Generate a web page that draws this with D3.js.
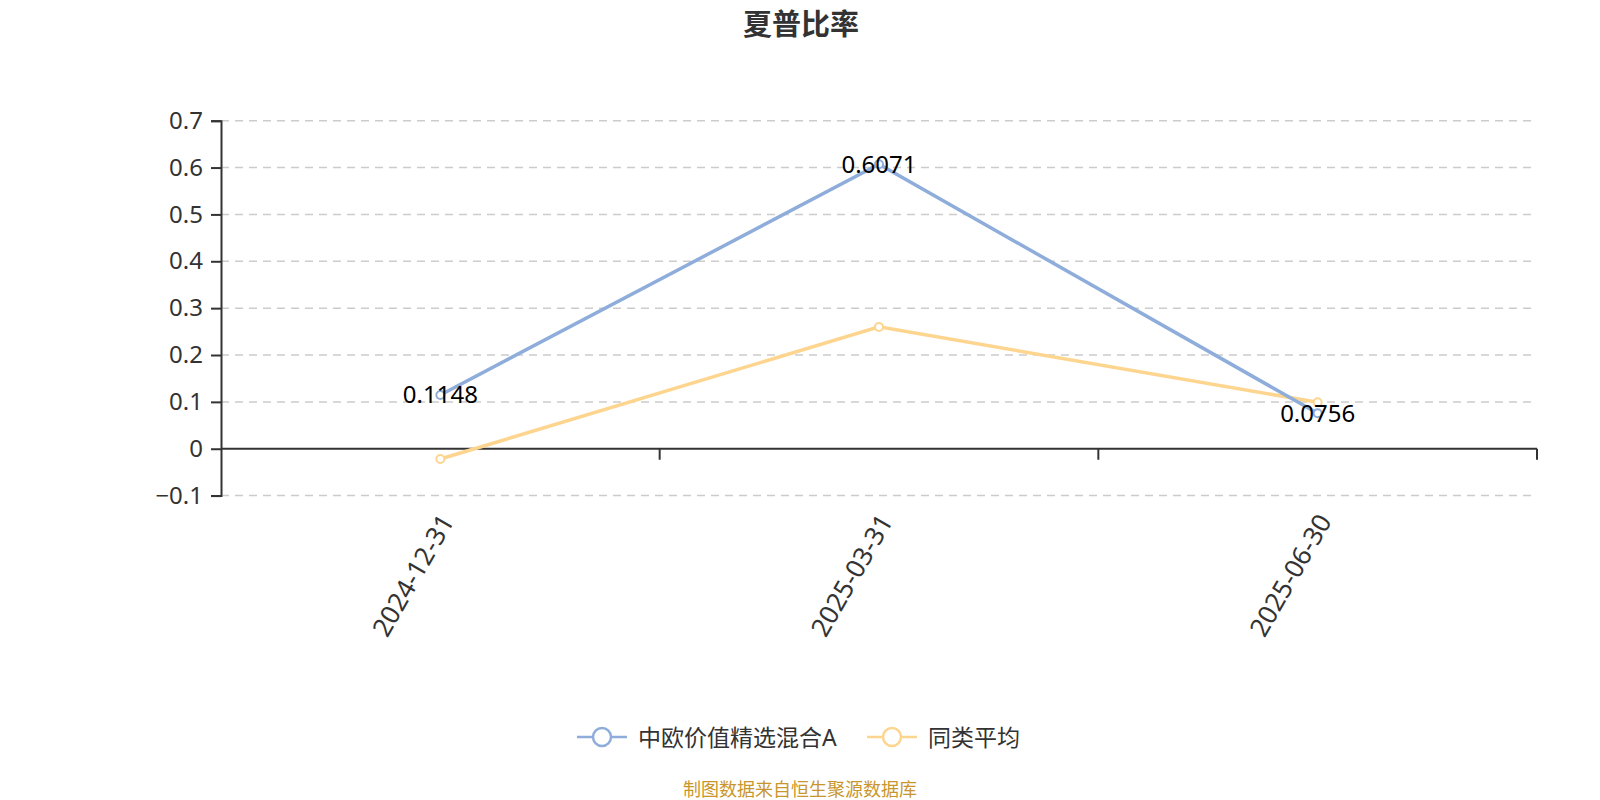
<!DOCTYPE html>
<html>
<head>
<meta charset="utf-8">
<script src="https://cdn.jsdelivr.net/npm/d3@7/dist/d3.min.js"></script>
<style>
  body { margin: 0; background: #fff; }
  text { font-family: "Noto Sans", "Noto Sans CJK SC", sans-serif; }
</style>
</head>
<body>
<script>
// data
const dates = ["2024-12-31", "2025-03-31", "2025-06-30"];
const fundName = "中欧价值精选混合A";
const avgName = "同类平均";
const fundValues = [0.1148, 0.6071, 0.0756];
const avgValues = [-0.022, 0.26, 0.099];
const yTicks = [-0.1, 0, 0.1, 0.2, 0.3, 0.4, 0.5, 0.6, 0.7];

const W = 1600, H = 800;
const blue = "#8eaddb", orange = "#fdd58f";

const svg = d3.select("body").append("svg")
  .attr("width", W).attr("height", H);

const x = d3.scaleBand().domain(dates).range([221, 1537]);
const y = d3.scaleLinear().domain([-0.1, 0.7]).range([495.6, 120.7]);

// title
svg.append("text")
  .attr("x", 801).attr("y", 23)
  .attr("text-anchor", "middle").attr("dominant-baseline", "central")
  .style("font-size", "29px").style("font-weight", "bold").style("fill", "#333")
  .text("夏普比率");

// grid lines
svg.append("g").selectAll("line")
  .data(yTicks.filter(d => d !== 0))
  .join("line")
  .attr("x1", 221).attr("x2", 1537)
  .attr("y1", d => y(d)).attr("y2", d => y(d))
  .attr("stroke", "#ccc").attr("stroke-width", 1.5)
  .attr("stroke-dasharray", "8,6");

// y axis
const yAxis = svg.append("g")
  .attr("transform", "translate(221,0)")
  .call(d3.axisLeft(y).tickValues(yTicks).tickSize(10).tickPadding(8)
    .tickFormat(d => d === 0 ? "0" : d3.format(".1f")(d)));
yAxis.select(".domain").attr("stroke", "#333").attr("stroke-width", 2);
yAxis.selectAll(".tick line").attr("stroke", "#333").attr("stroke-width", 2);
yAxis.selectAll(".tick text")
  .style("font-size", "24px").style("fill", "#333")
  .style("font-family", "'Noto Sans', sans-serif");

// x axis on zero
const xAxis = svg.append("g")
  .attr("transform", `translate(0,${y(0)})`);
xAxis.append("line")
  .attr("x1", 221).attr("x2", 1537)
  .attr("stroke", "#333").attr("stroke-width", 2);
const bounds = dates.map(d => x(d)).concat([x.range()[1]]);
xAxis.selectAll("line.tk")
  .data(bounds.slice(1))
  .join("line").attr("class", "tk")
  .attr("x1", d => d).attr("x2", d => d)
  .attr("y1", 0).attr("y2", 11)
  .attr("stroke", "#333").attr("stroke-width", 2);

// rotated category labels
svg.append("g").selectAll("text")
  .data(dates)
  .join("text")
  .attr("transform", d => `translate(${x(d) + x.bandwidth() / 2 + 6},${516}) rotate(-60)`)
  .attr("text-anchor", "end").attr("dominant-baseline", "central")
  .style("font-size", "26px").style("fill", "#333")
  .text(d => d);

// series
const series = [
  { name: avgName, values: avgValues, color: orange },
  { name: fundName, values: fundValues, color: blue }
];
const cx = d => x(d) + x.bandwidth() / 2;
const line = d3.line().x((v, i) => cx(dates[i])).y(v => y(v));

series.forEach(s => {
  svg.append("path")
    .attr("d", line(s.values))
    .attr("fill", "none").attr("stroke", s.color).attr("stroke-width", 3.5);
  svg.append("g").selectAll("circle")
    .data(s.values)
    .join("circle")
    .attr("cx", (v, i) => cx(dates[i])).attr("cy", v => y(v))
    .attr("r", 4).attr("fill", "#fff")
    .attr("stroke", s.color).attr("stroke-width", 2);
});

// blue value labels
svg.append("g").selectAll("text")
  .data(fundValues)
  .join("text")
  .attr("x", (v, i) => cx(dates[i])).attr("y", v => y(v) - 1)
  .attr("text-anchor", "middle").attr("dominant-baseline", "central")
  .style("font-size", "24px").style("fill", "#000")
  .text(v => d3.format(".4f")(v));

// legend
const legend = [
  { name: fundName, color: blue, x0: 577, tx: 638 },
  { name: avgName, color: orange, x0: 867, tx: 928 }
];
const lg = svg.append("g").selectAll("g").data(legend).join("g");
lg.append("line")
  .attr("x1", d => d.x0).attr("x2", d => d.x0 + 50)
  .attr("y1", 737).attr("y2", 737)
  .attr("stroke", d => d.color).attr("stroke-width", 2.5);
lg.append("circle")
  .attr("cx", d => d.x0 + 25).attr("cy", 737).attr("r", 9)
  .attr("fill", "#fff").attr("stroke", d => d.color).attr("stroke-width", 2.5);
lg.append("text")
  .attr("x", d => d.tx).attr("y", 737)
  .attr("dominant-baseline", "central")
  .style("font-size", "23px").style("fill", "#333")
  .text(d => d.name);

// footer
svg.append("text")
  .attr("x", 800).attr("y", 789)
  .attr("text-anchor", "middle").attr("dominant-baseline", "central")
  .style("font-size", "18px").style("fill", "#c8962d")
  .text("制图数据来自恒生聚源数据库");
</script>
</body>
</html>
